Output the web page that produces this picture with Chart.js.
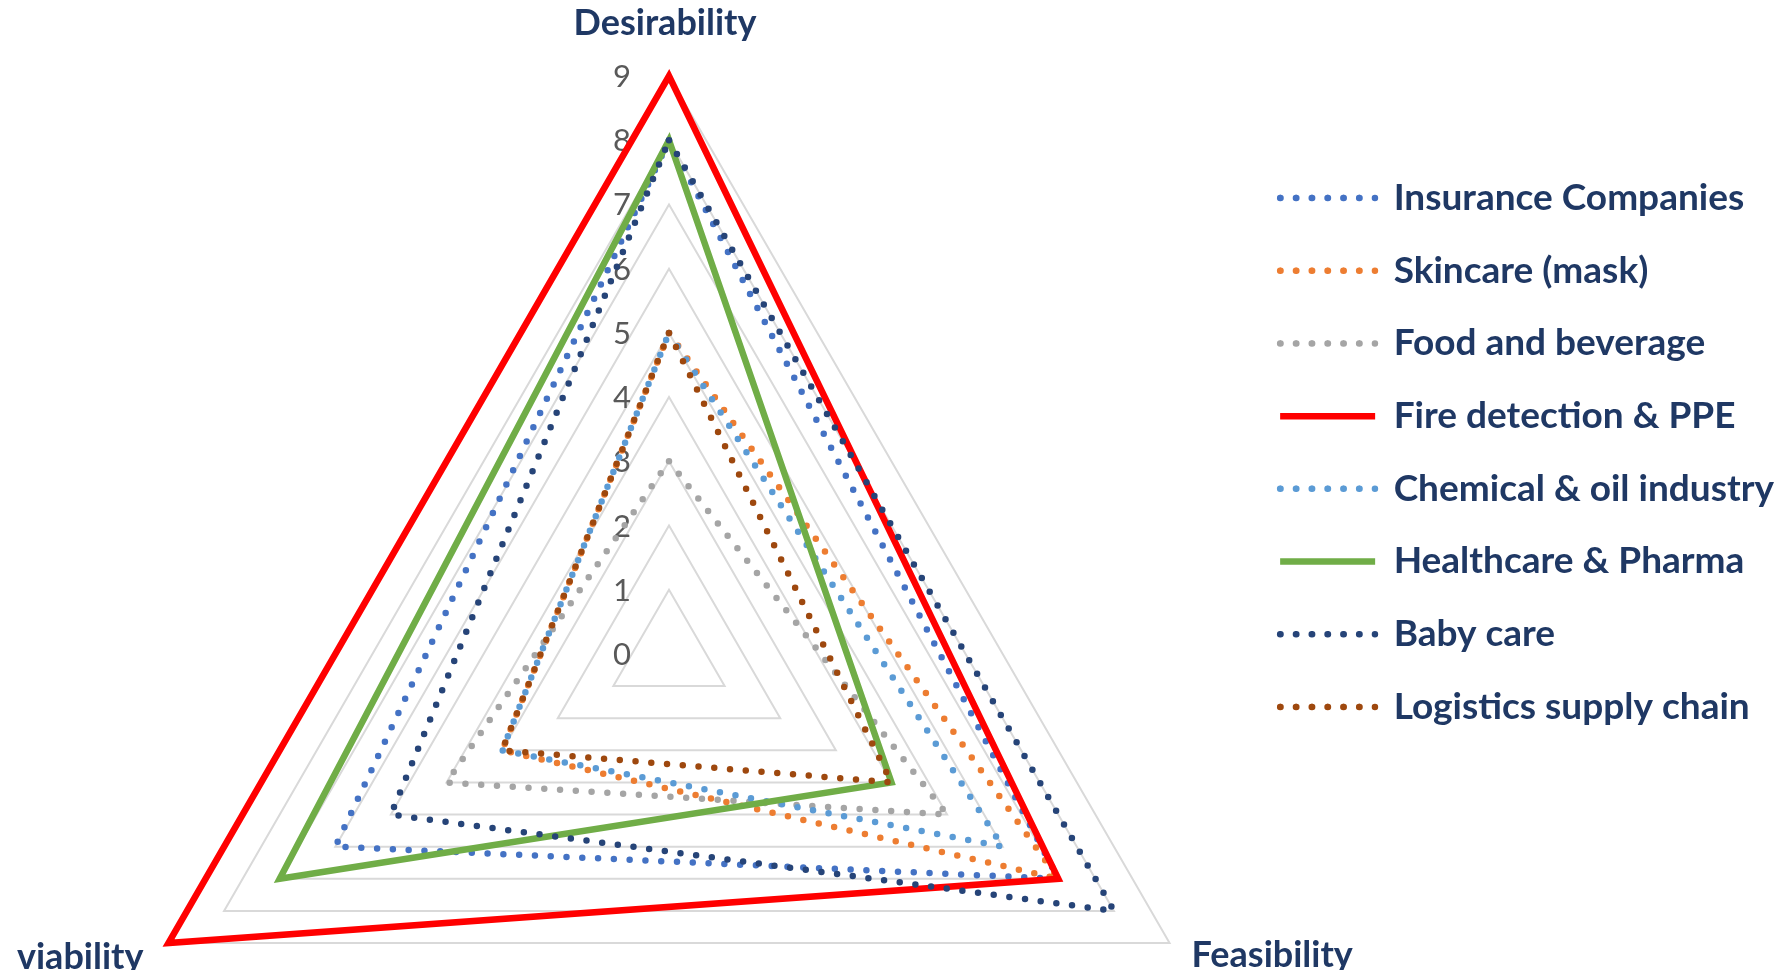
<!DOCTYPE html>
<html>
<head>
<meta charset="utf-8">
<title>Market radar</title>
<script src="https://cdn.jsdelivr.net/npm/chart.js@4"></script>
<style>
  html, body { margin: 0; padding: 0; background: #fff; }
  #wrap { width: 1784px; height: 970px; }
</style>
</head>
<body>
<div id="wrap"><canvas id="radar" width="1784" height="970"></canvas></div>
<script>
// ===== DATA =====
const axes = ['Desirability', 'Feasibility', 'viability'];
const tickValues = [0, 1, 2, 3, 4, 5, 6, 7, 8, 9];

const insurance  = [8, 7, 6];
const skincare   = [5, 7, 3];
const food       = [3, 5, 4];
const fire       = [9, 7, 9];
const chemical   = [5, 6, 3];
const healthcare = [8, 4, 7];
const babycare   = [8, 8, 5];
const logistics  = [5, 4, 3];

// ===== STYLE =====
const NAVY = '#1F3864';
const FONT = 'Lato';
const RADAR_CX = 669, RADAR_CY = 654, RADAR_R = 578;
const DOTS = [0, 15.8];

const SERIES = [
  { label: 'Insurance Companies',     data: insurance,  color: '#4472C4', dotted: true },
  { label: 'Skincare (mask)',         data: skincare,   color: '#ED7D31', dotted: true },
  { label: 'Food and beverage',       data: food,       color: '#A5A5A5', dotted: true },
  { label: 'Fire detection & PPE',    data: fire,       color: '#FF0000', dotted: false },
  { label: 'Chemical & oil industry', data: chemical,   color: '#5B9BD5', dotted: true },
  { label: 'Healthcare & Pharma',     data: healthcare, color: '#70AD47', dotted: false },
  { label: 'Baby care',               data: babycare,   color: '#264478', dotted: true },
  { label: 'Logistics supply chain',  data: logistics,  color: '#9E480E', dotted: true }
];

// ===== AXIS TEXT (tick numbers + axis titles) =====
const axisText = {
  id: 'axisText',
  beforeDatasetsDraw(chart) {
    const r = chart.scales.r;
    const ctx = chart.ctx;
    ctx.save();
    ctx.font = '31px ' + FONT;
    ctx.fillStyle = '#595959';
    ctx.textAlign = 'center';
    ctx.textBaseline = 'alphabetic';
    r.ticks.forEach(t => {
      if (!tickValues.includes(t.value)) return;
      const d = r.getDistanceFromCenterForValue(t.value);
      ctx.fillText(String(t.value), r.xCenter - 47, r.yCenter - d + 11);
    });
    ctx.restore();
  },
  afterDraw(chart) {
    const r = chart.scales.r;
    const ctx = chart.ctx;
    ctx.save();
    ctx.font = 'bold 36px ' + FONT;
    ctx.fillStyle = NAVY;
    ctx.textBaseline = 'alphabetic';
    const p0 = r.getPointPosition(0, r.drawingArea);
    const p1 = r.getPointPosition(1, r.drawingArea);
    const p2 = r.getPointPosition(2, r.drawingArea);
    ctx.textAlign = 'center';
    ctx.fillText(axes[0], p0.x - 4, p0.y - 41);
    ctx.textAlign = 'left';
    ctx.fillText(axes[1], p1.x + 22, p1.y + 24);
    ctx.textAlign = 'right';
    ctx.fillText(axes[2], p2.x - 25, p2.y + 26);
    ctx.restore();
  }
};

// ===== CHART =====
new Chart(document.getElementById('radar'), {
  type: 'radar',
  data: {
    labels: axes,
    datasets: SERIES.map((s, i) => ({
      label: s.label,
      data: s.data,
      borderColor: s.color,
      backgroundColor: 'rgba(0,0,0,0)',
      borderWidth: 6.5,
      borderDash: s.dotted ? DOTS : [],
      borderCapStyle: 'round',
      fill: false,
      pointRadius: 0,
      pointHoverRadius: 0,
      clip: false,
      order: -i
    }))
  },
  options: {
    responsive: false,
    animation: false,
    layout: { padding: { top: 0, right: 0, bottom: 65, left: 0 } },
    elements: { line: { tension: 0 } },
    plugins: {
      tooltip: { enabled: false },
      legend: {
        position: 'right',
        align: 'center',
        labels: {
          boxWidth: 95,
          boxHeight: 0,
          padding: 35.7,
          color: NAVY,
          font: { family: FONT, size: 37, weight: 'bold' },
          sort: (a, b) => a.datasetIndex - b.datasetIndex
        }
      }
    },
    scales: {
      r: {
        min: 0,
        max: 9,
        ticks: { stepSize: 1, display: false },
        grid: { color: '#D9D9D9', lineWidth: 2 },
        angleLines: { display: false },
        pointLabels: { display: false },
        afterFit: s => {
          s.xCenter = RADAR_CX;
          s.yCenter = RADAR_CY;
          s.drawingArea = RADAR_R;
        }
      }
    }
  },
  plugins: [axisText]
});
</script>
</body>
</html>
